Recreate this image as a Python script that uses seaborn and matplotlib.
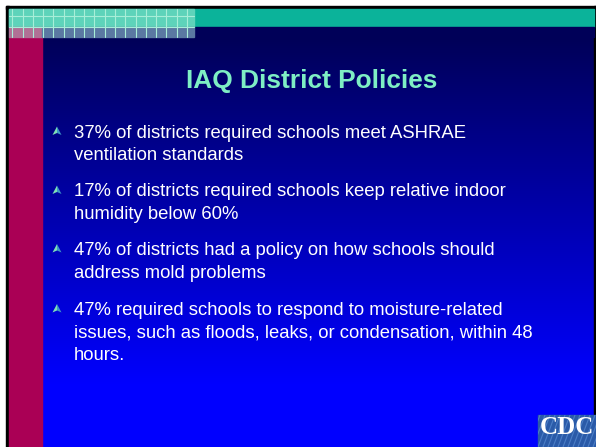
import numpy as np
import matplotlib
matplotlib.use("Agg")
import matplotlib.pyplot as plt
from matplotlib.patches import Rectangle, Polygon
import seaborn as sns

sns.set_theme(style="white")
plt.rcParams['font.family'] = ['Liberation Sans', 'DejaVu Sans']

# ---- content ----
title = "IAQ District Policies"
bullet_lines = [
    ["37% of districts required schools meet ASHRAE", "ventilation standards"],
    ["17% of districts required schools keep relative indoor", "humidity below 60%"],
    ["47% of districts had a policy on how schools should", "address mold problems"],
    ["47% required schools to respond to moisture-related",
     "issues, such as floods, leaks, or condensation, within 48", "hours."],
]
bullet_baselines = [137.5, 196.5, 255.0, 315.0]
logo_text = "CDC"

W, H = 596, 447
fig = plt.figure(figsize=(W / 100, H / 100), dpi=100)
ax = fig.add_axes([0, 0, 1, 1])
ax.set_xlim(0, W)
ax.set_ylim(H, 0)
ax.axis("off")
fig.patch.set_facecolor("white")

# background gradient (navy -> bright blue)
ys = np.linspace(37, H, 200)
t = np.clip((ys - 37) / (385 - 37), 0, 1)
grad = np.zeros((len(ys), 1, 3))
grad[:, 0, 2] = (0x58 + (0xFF - 0x58) * t) / 255
ax.imshow(grad, extent=[9, 595, H, 37], aspect="auto", zorder=0, interpolation="bilinear")

# frame
ax.add_patch(Rectangle((6, 6), W - 6, 3, color="black", zorder=1))
ax.add_patch(Rectangle((6, 6), 3, H - 6, color="black", zorder=1))
ax.add_patch(Rectangle((594.3, 6), 2, H - 6, color="black", zorder=1))

# top bands
ax.add_patch(Rectangle((9, 9), 585.3, 17.7, color="#0BB39A", zorder=2))
ax.add_patch(Rectangle((9, 26.7), 585.3, 10, color="#000058", zorder=2))
# left magenta strip
ax.add_patch(Rectangle((9, 36.7), 32.7, H - 36.7, color="#AA0055", zorder=2))

# checkered overlay top-left
ax.add_patch(Rectangle((9, 9), 185, 17.7, color="#5ED3BA", zorder=3))
ax.add_patch(Rectangle((9, 26.7), 32.7, 10, color="#B07095", zorder=3))
ax.add_patch(Rectangle((41.7, 26.7), 152.3, 10, color="#5A78A2", zorder=3))
xs = np.arange(12.3, 194, 10.27)
for x in xs:
    ax.plot([x, x], [9, 36.7], color="#A8EED8", lw=0.8, zorder=4)
for y in [16.0, 26.7]:
    ax.plot([9, 194], [y, y], color="#A8EED8", lw=0.8, zorder=4)

# title
ax.text(312, 88, title, ha="center", va="baseline", fontsize=18.9,
        fontweight="bold", color="#7EEEC4", zorder=5)

# bullets
line_h = 22.5
for lines, base in zip(bullet_lines, bullet_baselines):
    top, bot = base - 11, base - 2.5
    cx = 57
    ax.add_patch(Polygon([(cx, top), (cx - 4.5, bot), (cx, bot - 2)], closed=True,
                         color="#7FE0B4", lw=0, zorder=5))
    ax.add_patch(Polygon([(cx, top), (cx + 4.5, bot), (cx, bot - 2)], closed=True,
                         color="#3C98C8", lw=0, zorder=5))
    for i, ln in enumerate(lines):
        ax.text(74, base + i * line_h, ln, ha="left", va="baseline",
                fontsize=13.3, color="white", zorder=5)

# CDC logo
logo = Rectangle((538, 415), 58, 32, color="#2A5AA8", zorder=5)
ax.add_patch(logo)
for k in range(-6, 14):
    x0 = 538 + k * 5
    ln, = ax.plot([x0, x0 + 12], [447, 415], color="#4C7EC6", lw=0.8, zorder=6)
    ln.set_clip_path(logo)
ax.text(540, 434, logo_text, ha="left", va="baseline", fontsize=18,
        fontweight="bold", color="white", family="Liberation Serif", zorder=7)
ax.set_xlim(0, W)
ax.set_ylim(H, 0)

fig.savefig("out.png", dpi=100)
